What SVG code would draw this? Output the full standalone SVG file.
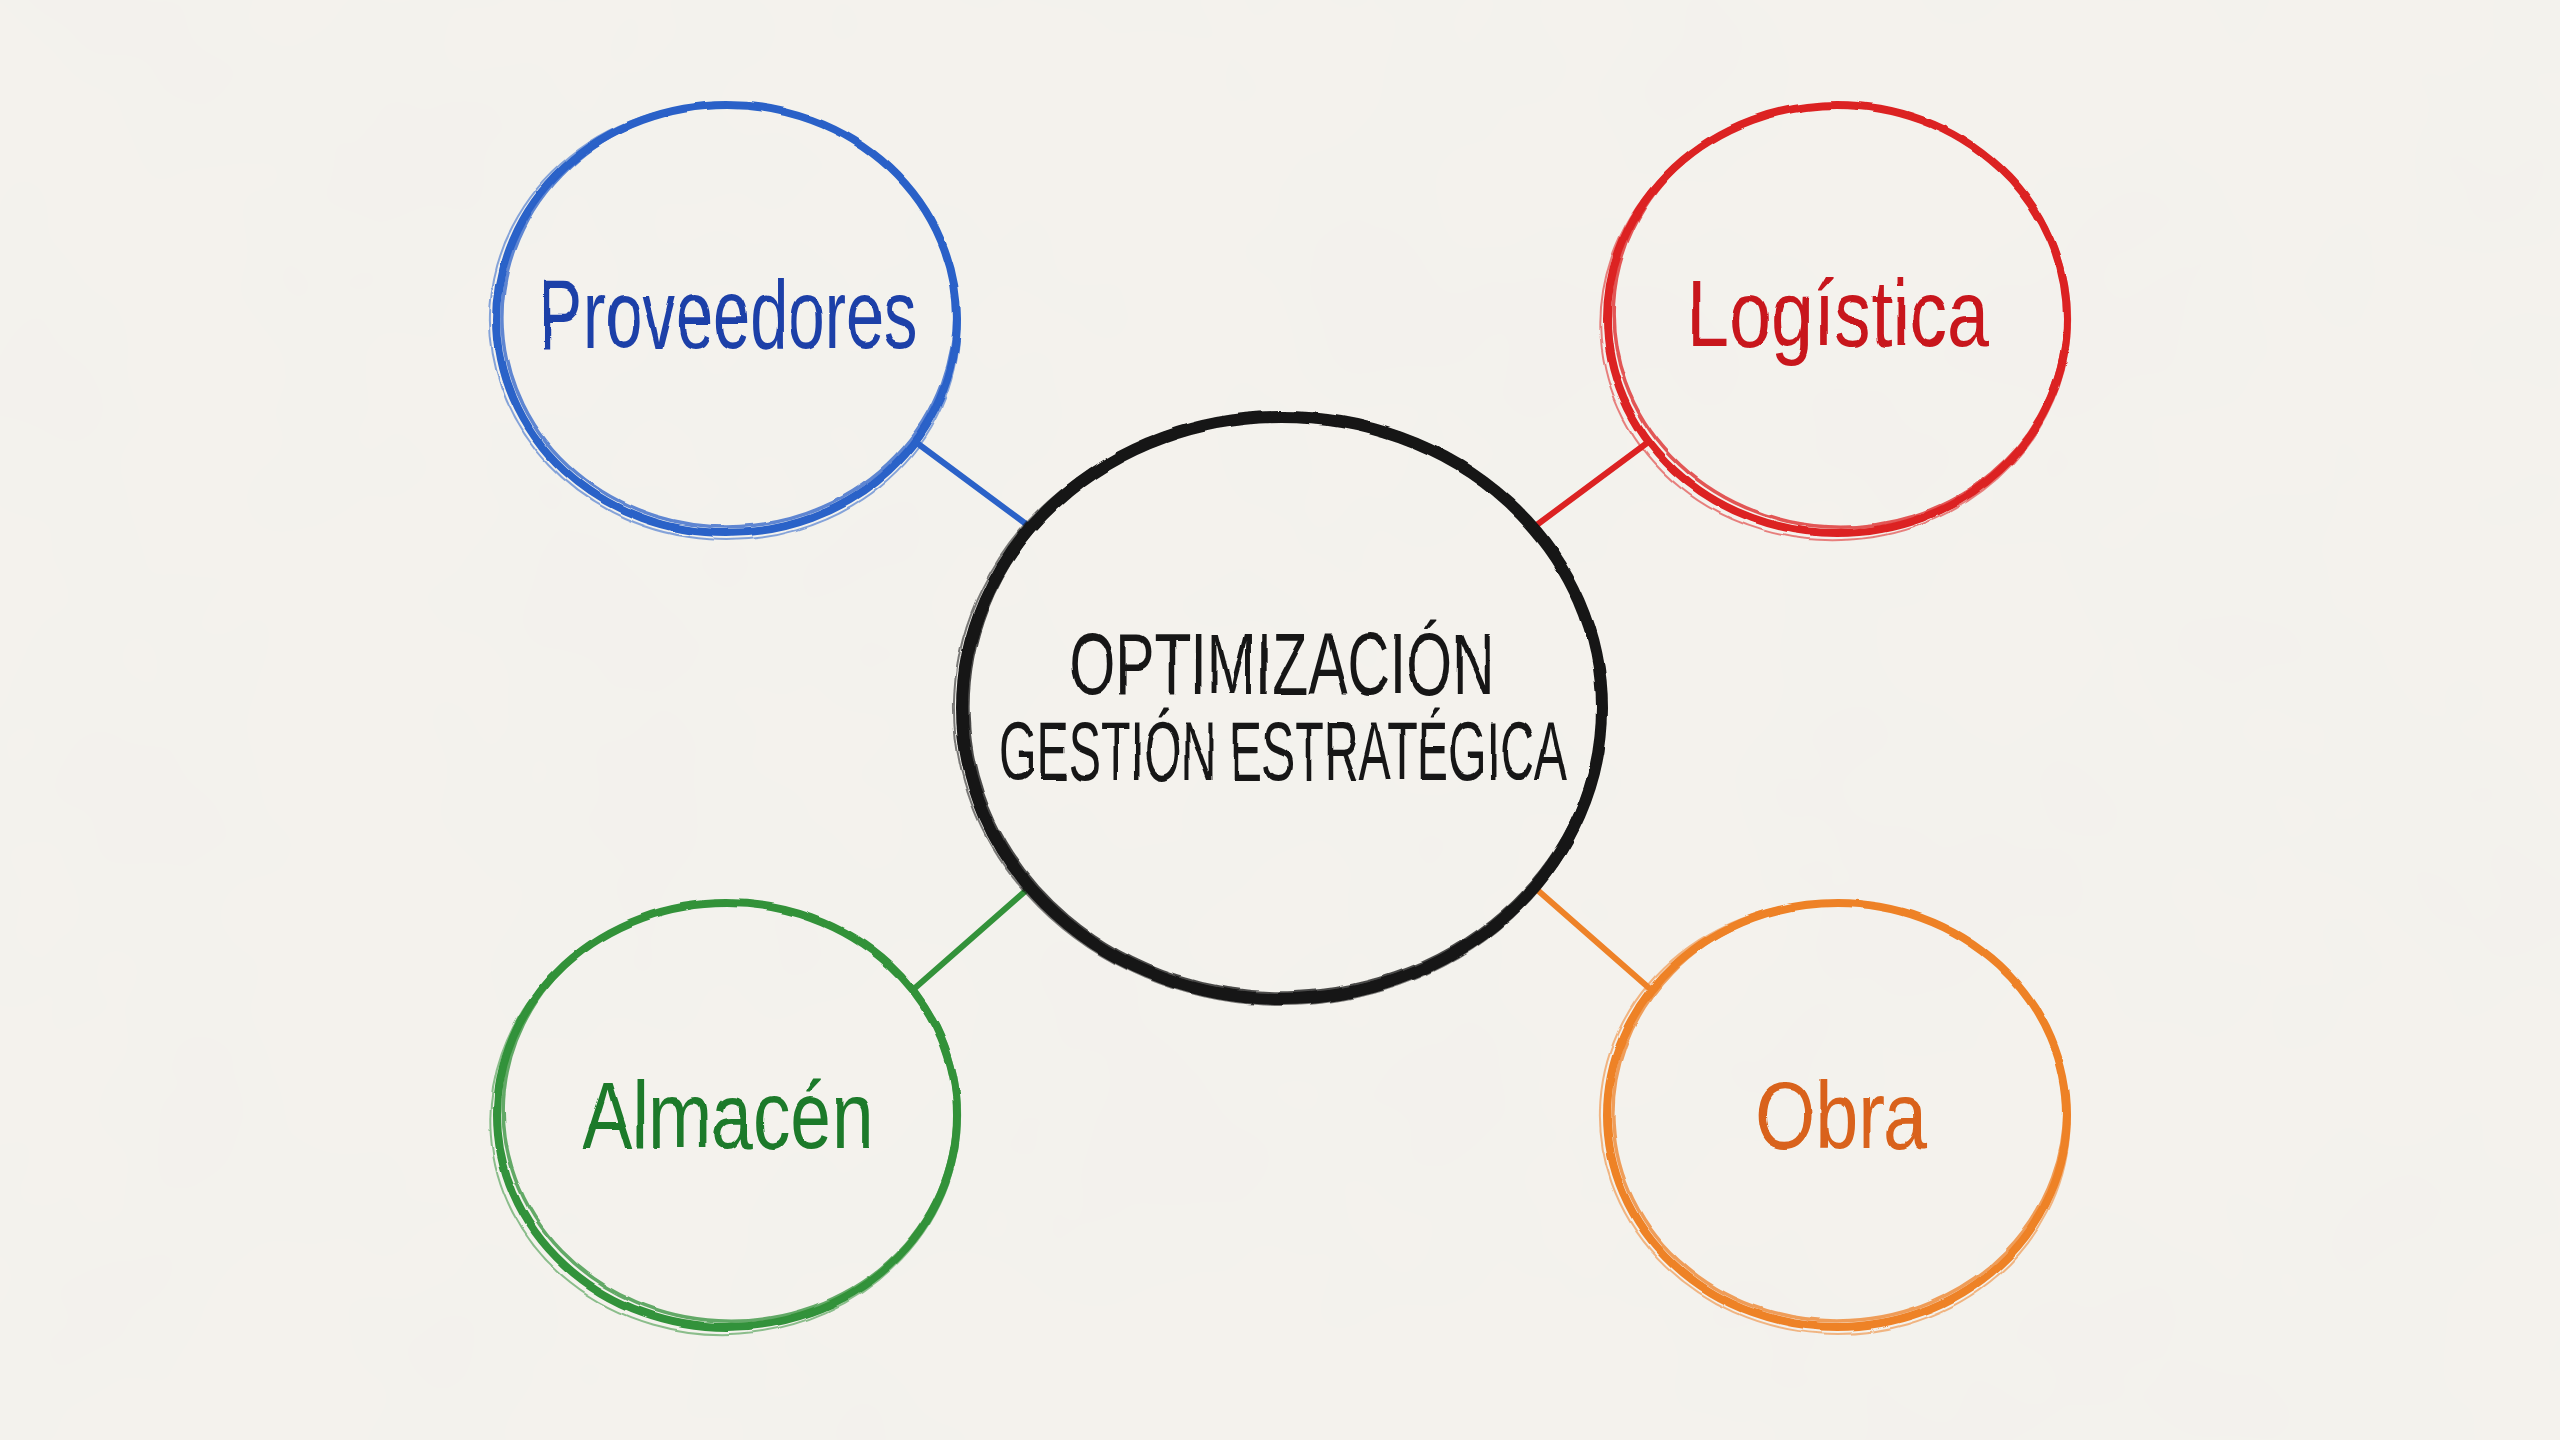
<svg xmlns="http://www.w3.org/2000/svg" width="2560" height="1440" viewBox="0 0 2560 1440">
  <defs>
    <filter id="rough" x="-5%" y="-5%" width="110%" height="110%">
      <feTurbulence type="fractalNoise" baseFrequency="0.025" numOctaves="2" seed="3" result="n"/>
      <feDisplacementMap in="SourceGraphic" in2="n" scale="4" xChannelSelector="R" yChannelSelector="G"/>
    </filter>
    <filter id="paper" x="0" y="0" width="100%" height="100%">
      <feTurbulence type="fractalNoise" baseFrequency="0.004" numOctaves="3" seed="7" result="t"/>
      <feColorMatrix in="t" type="matrix" values="0 0 0 0 0.88  0 0 0 0 0.87  0 0 0 0 0.84  0 0 0 0.35 0"/>
    </filter>
    <style>
      .ring { fill: none; stroke-linecap: round; }
      .main { stroke-width: 8; }
      .thin { stroke-width: 3.5; opacity: 0.75; }
      .hair { stroke-width: 2; opacity: 0.55; }
      .lbl { font-family: "Liberation Sans", "DejaVu Sans", sans-serif; text-anchor: middle; }
      .conn line { stroke-width: 6; stroke-linecap: round; }
      .blue { stroke: #2b62c8; }
      .red { stroke: #dc2222; }
      .green { stroke: #33923a; }
      .orange { stroke: #ee8228; }
      .black { stroke: #161616; }
    </style>
  </defs>

  <rect width="2560" height="1440" fill="#f4f2ed"/>
  <rect width="2560" height="1440" filter="url(#paper)"/>

  <g id="connectors" class="conn">
    <line class="blue" x1="917" y1="443" x2="1030" y2="527"/>
    <line class="red" x1="1647" y1="443" x2="1534" y2="527"/>
    <line class="green" x1="915" y1="988" x2="1030" y2="887"/>
    <line class="orange" x1="1649" y1="988" x2="1534" y2="887"/>
  </g>

  <g id="node-center" filter="url(#rough)">
    <ellipse class="ring black" cx="1282" cy="708" rx="320" ry="291" stroke-width="12"/>
    <ellipse class="ring black thin" cx="1284" cy="705" rx="316" ry="288" transform="rotate(-2 1282 708)"/>
    <ellipse class="ring black hair" cx="1279" cy="711" rx="325" ry="294" transform="rotate(3 1282 708)"/>
    <text class="lbl" x="1282" y="694" font-size="88" fill="#161616" textLength="425" lengthAdjust="spacingAndGlyphs">OPTIMIZACIÓN</text>
    <text class="lbl" x="1283" y="780" font-size="84" fill="#161616" textLength="568" lengthAdjust="spacingAndGlyphs">GESTIÓN ESTRATÉGICA</text>
  </g>

  <g id="node-proveedores" filter="url(#rough)">
    <ellipse class="ring blue main" cx="727" cy="319" rx="230" ry="214"/>
    <ellipse class="ring blue thin" cx="729" cy="316" rx="226" ry="211" transform="rotate(-3 727 319)"/>
    <ellipse class="ring blue hair" cx="725" cy="322" rx="235" ry="218" transform="rotate(4 727 319)"/>
    <text class="lbl" x="728" y="348" font-size="98" fill="#1f3fa8" textLength="379" lengthAdjust="spacingAndGlyphs">Proveedores</text>
  </g>

  <g id="node-logistica" filter="url(#rough)">
    <ellipse class="ring red main" cx="1837" cy="319" rx="230" ry="214"/>
    <ellipse class="ring red thin" cx="1839" cy="316" rx="226" ry="211" transform="rotate(3 1837 319)"/>
    <ellipse class="ring red hair" cx="1835" cy="322" rx="235" ry="218" transform="rotate(-4 1837 319)"/>
    <text class="lbl" x="1838" y="346" font-size="94" fill="#c8161d" textLength="302" lengthAdjust="spacingAndGlyphs">Logística</text>
  </g>

  <g id="node-almacen" filter="url(#rough)">
    <ellipse class="ring green main" cx="727" cy="1115" rx="230" ry="212"/>
    <ellipse class="ring green thin" cx="729" cy="1112" rx="226" ry="209" transform="rotate(3 727 1115)"/>
    <ellipse class="ring green hair" cx="725" cy="1118" rx="235" ry="216" transform="rotate(-4 727 1115)"/>
    <text class="lbl" x="728" y="1148" font-size="94" fill="#1d7a2a" textLength="291" lengthAdjust="spacingAndGlyphs">Almacén</text>
  </g>

  <g id="node-obra" filter="url(#rough)">
    <ellipse class="ring orange main" cx="1837" cy="1115" rx="230" ry="212"/>
    <ellipse class="ring orange thin" cx="1839" cy="1112" rx="226" ry="209" transform="rotate(-3 1837 1115)"/>
    <ellipse class="ring orange hair" cx="1835" cy="1118" rx="235" ry="216" transform="rotate(4 1837 1115)"/>
    <text class="lbl" x="1841" y="1148" font-size="94" fill="#d9621a" textLength="172" lengthAdjust="spacingAndGlyphs">Obra</text>
  </g>
</svg>
